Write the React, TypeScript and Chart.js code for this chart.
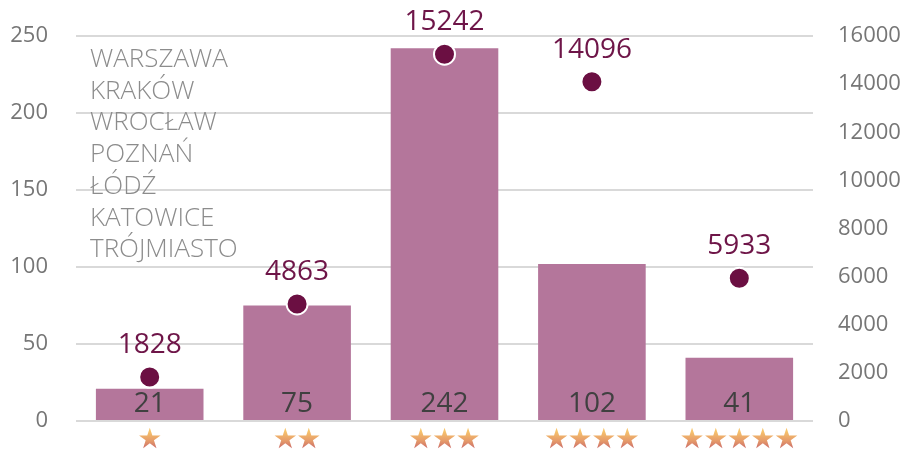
import React, { useEffect, useRef } from "react";
import { Chart, registerables } from "chart.js";

Chart.register(...registerables);

const categories = ["★", "★★", "★★★", "★★★★", "★★★★★"];
const barValues = [21, 75, 242, 102, 41];
const dotValues = [1828, 4863, 15242, 14096, 5933];
const leftTicks = [0, 50, 100, 150, 200, 250];
const rightTicks = [0, 2000, 4000, 6000, 8000, 10000, 12000, 14000, 16000];
const cities = ["WARSZAWA", "KRAKÓW", "WROCŁAW", "POZNAŃ", "ŁÓDŹ", "KATOWICE", "TRÓJMIASTO"];

const BAR_COLOR = "#b4769b";
const DOT_COLOR = "#6b0f42";
const DOT_LABEL_COLOR = "#6e1548";
const BAR_LABEL_COLOR = "#404040";
const FONT = "'Open Sans', sans-serif";

const labelsPlugin = {
  id: "valueLabels",
  afterDatasetsDraw(chart: any) {
    const ctx = chart.ctx;
    const area = chart.chartArea;
    ctx.save();
    const barMeta = chart.getDatasetMeta(0);
    ctx.font = `28px ${FONT}`;
    ctx.fillStyle = BAR_LABEL_COLOR;
    ctx.textAlign = "center";
    ctx.textBaseline = "alphabetic";
    barMeta.data.forEach((el: any, i: number) => {
      ctx.fillText(String(barValues[i]), el.x, area.bottom - 9);
    });
    const dotMeta = chart.getDatasetMeta(1);
    ctx.fillStyle = DOT_LABEL_COLOR;
    dotMeta.data.forEach((el: any, i: number) => {
      ctx.fillText(String(dotValues[i]), el.x, el.y - 24);
    });
    ctx.font = `300 26px ${FONT}`;
    ctx.fillStyle = "#8c8c8c";
    ctx.textAlign = "left";
    cities.forEach((c, i) => {
      ctx.fillText(c, area.left + 14, 67 + i * 31.7);
    });
    ctx.restore();
  },
  afterDraw(chart: any) {
    // star category labels with a vertical gradient
    const ctx = chart.ctx;
    const xs = chart.scales.x;
    const top = chart.chartArea.bottom + 10;
    const g = ctx.createLinearGradient(0, top, 0, top + 20);
    g.addColorStop(0, "#f7c56c");
    g.addColorStop(0.5, "#e59a6a");
    g.addColorStop(1, "#c25c69");
    ctx.save();
    ctx.font = "28px 'DejaVu Sans'";
    ctx.fillStyle = g;
    ctx.textAlign = "left";
    ctx.textBaseline = "middle";
    (ctx as any).letterSpacing = "-1.5px";
    categories.forEach((label, i) => {
      const w = ctx.measureText(label).width + 1.5;
      const x = xs.getPixelForTick(i);
      ctx.fillText(label, x - w / 2, top + 10);
    });
    ctx.restore();
  },
};

function noPad(axis: any) {
  axis.paddingTop = 0;
  axis.paddingBottom = 0;
}

export default function App() {
  const ref = useRef<HTMLCanvasElement | null>(null);
  useEffect(() => {
    if (!ref.current) return;
    const chart = new Chart(ref.current, {
      data: {
        labels: categories,
        datasets: [
          {
            type: "bar",
            data: barValues,
            backgroundColor: BAR_COLOR,
            yAxisID: "y",
            order: 1,
            barPercentage: 0.73,
            categoryPercentage: 1,
          },
          {
            type: "line",
            data: dotValues,
            yAxisID: "y1",
            showLine: false,
            pointRadius: 10.5,
            pointBackgroundColor: DOT_COLOR,
            pointBorderColor: "#ffffff",
            pointBorderWidth: 2,
            order: 0,
          },
        ],
      } as any,
      options: {
        animation: false,
        responsive: true,
        maintainAspectRatio: false,
        layout: { padding: { top: 36, left: 0, right: 0, bottom: 0 } },
        plugins: { legend: { display: false }, tooltip: { enabled: false }, title: { display: false } },
        scales: {
          x: {
            grid: { display: false, drawTicks: false },
            border: { display: false },
            ticks: { display: false },
            afterFit(axis: any) {
              axis.height = 33;
              axis.paddingLeft = 0;
              axis.paddingRight = 0;
            },
          },
          y: {
            position: "left",
            min: 0,
            max: 250,
            afterBuildTicks(axis: any) {
              axis.ticks = leftTicks.map((v) => ({ value: v }));
            },
            grid: { color: "#d9d9d9", lineWidth: 2, drawTicks: false },
            border: { display: false },
            ticks: {
              padding: 28,
              font: { family: FONT, size: 22 },
              color: "#767676",
            },
            afterFit(axis: any) {
              axis.width = 76;
              noPad(axis);
            },
          },
          y1: {
            position: "right",
            min: 0,
            max: 16000,
            afterBuildTicks(axis: any) {
              axis.ticks = rightTicks.map((v) => ({ value: v }));
            },
            grid: { display: false, drawTicks: false },
            border: { display: false },
            ticks: {
              padding: 25,
              font: { family: FONT, size: 22 },
              color: "#767676",
              callback: (v: any) => String(v),
            },
            afterFit(axis: any) {
              axis.width = 96;
              noPad(axis);
            },
          },
        },
      } as any,
      plugins: [labelsPlugin],
    });
    return () => chart.destroy();
  }, []);
  return (
    <div style={{ position: "absolute", left: 0, top: 0, width: 909, height: 454 }}>
      <canvas ref={ref} />
    </div>
  );
}
